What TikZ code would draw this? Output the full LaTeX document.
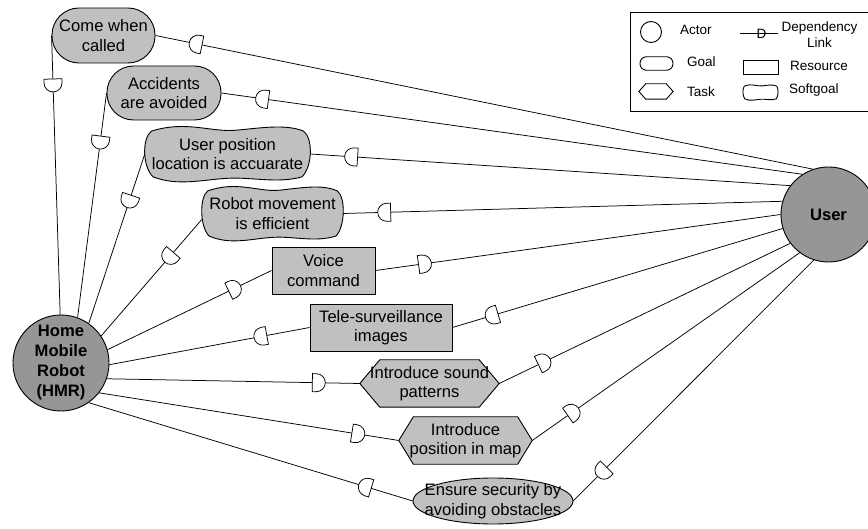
\documentclass[tikz,border=0pt]{standalone}
\usepackage{fontspec}
\setmainfont{Liberation Sans}
\usetikzlibrary{shapes.misc,shapes.geometric,decorations.markings,backgrounds}
\definecolor{goalgray}{RGB}{192,192,192}
\definecolor{actorgray}{RGB}{150,150,150}
\newcommand\Dfwd{\filldraw[fill=white,draw=black,line width=0.75pt] (-6.5pt,-9pt) -- (-2.5pt,-9pt) arc[start angle=-90,end angle=90,radius=9pt] -- (-6.5pt,9pt) -- cycle;}
\newcommand\Dbwd{\filldraw[fill=white,draw=black,line width=0.75pt] (6.5pt,-9pt) -- (2.5pt,-9pt) arc[start angle=-90,end angle=-270,radius=9pt] -- (6.5pt,9pt) -- cycle;}
\newcommand\drawsoftgoal[4]{%
 \begin{scope}[on background layer, shift={(#1.center)}]
 \path[#4] ({-0.92*#2},{-0.85*#3}) .. controls ({-0.5*#2},{-1.25*#3}) and ({-0.2*#2},{-0.8*#3}) .. ({0.1*#2},{-0.88*#3})
  .. controls ({0.4*#2},{-0.96*#3}) and ({0.7*#2},{-1.12*#3}) .. ({0.92*#2},{-0.85*#3})
  .. controls ({1.04*#2},{-0.6*#3}) and ({1.03*#2},{0.5*#3}) .. ({0.9*#2},{0.85*#3})
  .. controls ({0.6*#2},{1.1*#3}) and ({0.3*#2},{0.85*#3}) .. ({0},{0.9*#3})
  .. controls ({-0.3*#2},{0.95*#3}) and ({-0.6*#2},{1.2*#3}) .. ({-0.9*#2},{0.85*#3})
  .. controls ({-1.03*#2},{0.5*#3}) and ({-1.04*#2},{-0.6*#3}) .. ({-0.92*#2},{-0.85*#3}) -- cycle;
 \end{scope}}
\newcommand\drawtask[3]{%
 \begin{scope}[on background layer]
 \path[#3] (#1.west) -- ([xshift=#2]#1.north west) -- ([xshift=-#2]#1.north east) -- (#1.east) -- ([xshift=-#2]#1.south east) -- ([xshift=#2]#1.south west) -- cycle;
 \end{scope}}
\begin{document}
\begin{tikzpicture}[x=1pt,y=-1pt,
 lbl/.style={font=\fontsize{16.6}{19.5}\selectfont, align=center, inner sep=0pt},
 legtext/.style={font=\fontsize{13.5}{16}\selectfont, align=center, inner sep=0pt},
 shapeline/.style={draw=black, line width=0.9pt},
 actor/.style={circle, shapeline, fill=actorgray, minimum size=96pt, lbl, font=\fontsize{16.6}{20}\selectfont\bfseries},
 goal/.style={rectangle, shapeline, fill=goalgray, lbl},
 resource/.style={rectangle, shapeline, fill=goalgray, lbl},
 sgshape/.style={shapeline, fill=goalgray},
 sglegend/.style={shapeline, fill=white},
 taskshape/.style={shapeline, fill=goalgray},
 tasklegend/.style={shapeline, fill=white},
 link/.style={draw=black, line width=0.75pt},
 toer/.style={link, postaction={decorate, decoration={markings, mark=at position 41pt with {\Dbwd}}}},
 toee/.style={link, postaction={decorate, decoration={markings, mark=at position 50pt with {\Dfwd}}}}]
\useasboundingbox (0,0) rectangle (868,529);
\clip (0,0) rectangle (868,529);

% actors
\node[actor] (hmr) at (61,363) {Home\\Mobile\\Robot\\(HMR)};
\node[actor, minimum size=95pt] (user) at (828.5,214.5) {User};

% goals
\node[goal, rounded corners=27pt, minimum width=103pt, minimum height=55pt] (cwc) at (103.5,35.5) {Come when\\called};
\node[goal, rounded corners=26.5pt, minimum width=114pt, minimum height=54pt] (acc) at (164,93) {Accidents\\are avoided};

% softgoals
\node[lbl, minimum width=165pt, minimum height=54pt] (upl) at (227.5,154) {User position\\location is accuarate};
\drawsoftgoal{upl}{82.5}{27}{sgshape}
\node[lbl, minimum width=141pt, minimum height=53pt] (rme) at (272.5,213.5) {Robot movement\\is efficient};
\drawsoftgoal{rme}{70.5}{26.5}{sgshape}

% resources
\node[resource, minimum width=103pt, minimum height=47pt] (voc) at (323.5,270.5) {Voice\\command};
\node[resource, minimum width=142pt, minimum height=47pt] (tel) at (381,327.5) {Tele-surveillance\\images};

% tasks
\node[lbl, minimum width=139pt, minimum height=47pt] (snd) at (429.5,383.5) {Introduce sound\\patterns};
\drawtask{snd}{20pt}{taskshape}
\node[lbl, minimum width=133pt, minimum height=47pt] (pos) at (465.5,440.5) {Introduce\\position in map};
\drawtask{pos}{14.5pt}{taskshape}

% goal (ellipse)
\node[lbl, minimum width=160pt, minimum height=46pt] (ens) at (493,501) {Ensure security by\\avoiding obstacles};
\begin{scope}[on background layer]
\path[sgshape] (ens.center) ellipse [x radius=80, y radius=23];
\end{scope}

% dependency links
\draw[toer] (cwc.east) -- (user.109.6);
\draw[toee] (cwc.west) -- (hmr.91);
\draw[toer] (acc.east) -- (user.123.7);
\draw[toee] (acc.west) -- (hmr.70);
\draw[toer] (upl.east) -- (user.143.6);
\draw[toee] (upl.west) -- (hmr.55);
\draw[toer] (rme.east) -- (user.164);
\draw[toee] ([yshift=-6pt]rme.west) -- (hmr.34);
\draw[toer] (voc.west) -- (hmr.16);
\draw[toee] (voc.east) -- (user.180);
\draw[toer] (tel.east) -- (user.197);
\draw[toee] (tel.west) -- (hmr.-2);
\draw[toer] (snd.west) -- (hmr.-19);
\draw[toee] (snd.east) -- (user.217);
\draw[toer] (pos.west) -- (hmr.-38);
\draw[toee] (pos.east) -- (user.233);
\draw[toer] (ens.east) -- (user.252);
\draw[toee] (ens.west) -- (hmr.-55);

% legend
\draw[shapeline] (630,12) rectangle (872,111);
\node[circle, shapeline, fill=white, minimum size=21pt, inner sep=0pt] (lact) at (651,32) {};
\node[legtext, anchor=west] (lactt) at (680,30) {Actor};
\node[rectangle, rounded corners=6.5pt, shapeline, fill=white, minimum width=33pt, minimum height=13.5pt, inner sep=0pt] (lgoal) at (656.5,63.5) {};
\node[legtext, anchor=west] (lgoalt) at (687,62) {Goal};
\node[minimum width=34pt, minimum height=15pt, inner sep=0pt] (ltask) at (656,91.5) {};
\drawtask{ltask}{7pt}{tasklegend}
\node[legtext, anchor=west] (ltaskt) at (687,92) {Task};
\coordinate (ldA) at (740,33);
\coordinate (ldB) at (778,33);
\draw[link] (ldA) -- (ldB);
\node[legtext] (ldD) at (761.5,33.5) {D};
\node[legtext] (ldt) at (819.5,35) {Dependency\\Link};
\node[rectangle, shapeline, fill=white, minimum width=35pt, minimum height=14pt, inner sep=0pt] (lres) at (760.5,67) {};
\node[legtext, anchor=west] (lrest) at (790,66) {Resource};
\node[minimum width=35pt, minimum height=15pt, inner sep=0pt] (lsg) at (760.5,92.5) {};
\drawsoftgoal{lsg}{17.5}{7.5}{sglegend}
\node[legtext, anchor=west] (lsgt) at (789,90) {Softgoal};
\end{tikzpicture}
\end{document}
